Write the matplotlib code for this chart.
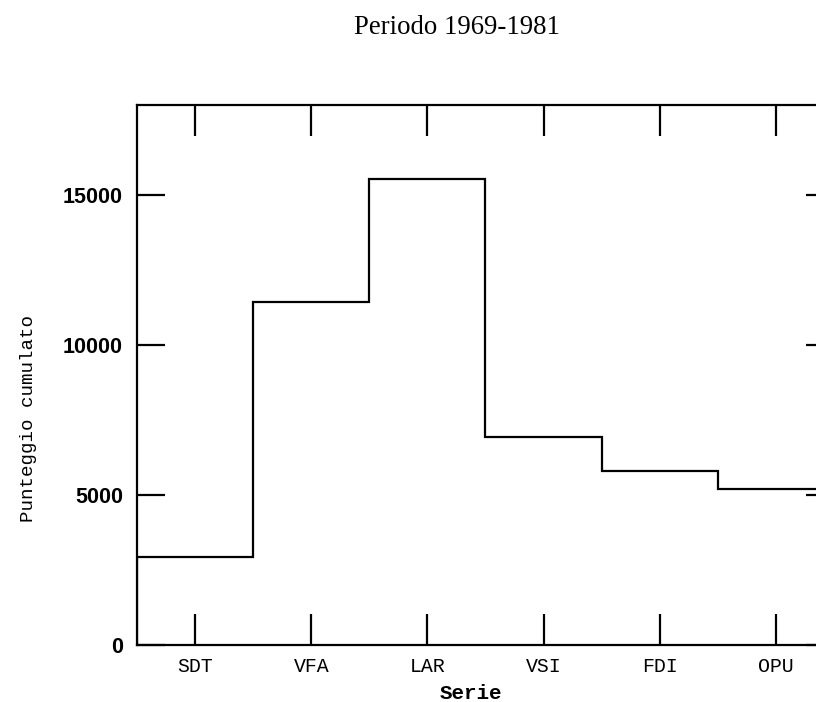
import matplotlib
matplotlib.use("Agg")
import matplotlib.pyplot as plt
import numpy as np

categories = ["SDT", "VFA", "LAR", "VSI", "FDI", "OPU"]
values = [2950, 11420, 15520, 6930, 5800, 5190]
yticks = [0, 5000, 10000, 15000]

W, H = 816, 702
fig = plt.figure(figsize=(W / 100, H / 100), dpi=100)
L, R, B, T = 137, 834, 645, 105
ax = fig.add_axes([L / W, 1 - B / H, (R - L) / W, (B - T) / H])

edges = np.arange(len(categories) + 1) - 0.5
ax.stairs(values, edges, baseline=0, color="black", linewidth=1.6)

ax.set_xlim(-0.5, len(categories) - 0.5)
ax.set_ylim(0, 18000)
ax.set_xticks(np.arange(len(categories)))
ax.set_xticklabels(categories, family="Liberation Mono", fontsize=14.3)
ax.set_yticks(yticks)
ax.set_yticklabels([str(v) for v in yticks], family="Liberation Sans",
                   fontweight="bold", fontsize=15.5)
ax.tick_params(axis="x", direction="in", length=22, width=1.6, top=True, pad=9)
ax.tick_params(axis="y", direction="in", length=20, width=1.6, right=True, pad=10)
for s in ax.spines.values():
    s.set_linewidth(1.6)

ax.set_ylabel("Punteggio cumulato", family="Liberation Mono", fontsize=13.8)
ax.yaxis.set_label_coords((37 - L) / (R - L), (B - 419) / (B - T))
ax.set_xlabel("Serie", family="Liberation Mono", fontweight="bold", fontsize=15)
ax.xaxis.set_label_coords((471 - L) / (R - L), -0.072)

fig.text(457 / W, 1 - 27 / H, "Periodo 1969-1981", family="Liberation Serif",
         fontsize=19.3, ha="center", va="center")

fig.savefig("out.png", dpi=100)
